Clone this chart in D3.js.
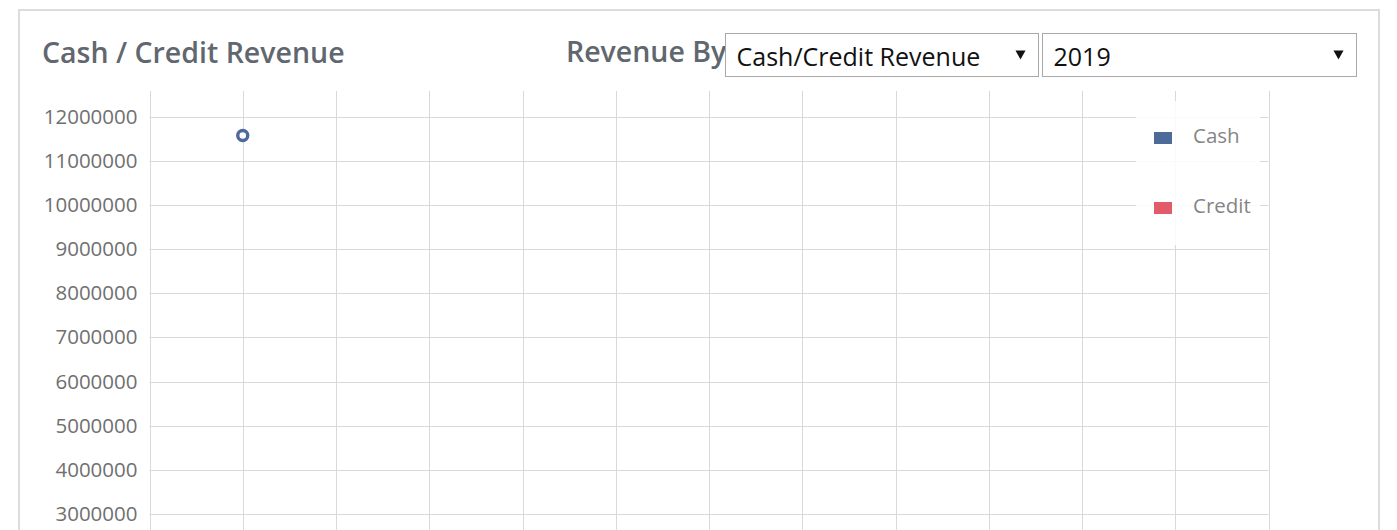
<!DOCTYPE html>
<html>
<head>
<meta charset="utf-8">
<script src="https://cdn.jsdelivr.net/npm/d3@7"></script>
<style>
  body { margin: 0; background: #fff; overflow: hidden; }
  text { font-family: "Open Sans", sans-serif; }
</style>
</head>
<body>
<div id="wrapper"></div>
<script>
// DATA
const months = [1]
const cashValues = [11580000]
const creditMonths = []
const creditValues = []
const yTicks = [3000000, 4000000, 5000000, 6000000,
  7000000, 8000000, 9000000, 10000000, 11000000, 12000000]
const xTicks = [0, 1, 2, 3, 4, 5, 6, 7, 8, 9, 10, 11, 12]
const legendItems = ["Cash", "Credit"]
const legendColors = ["#4e6a9a", "#e25b6b"]
const revenueOptions = ["Cash/Credit Revenue"]
const yearOptions = ["2019"]

function drawChart() {
  const width = 1397
  const height = 530

  const svg = d3.select('#wrapper')
    .append('svg')
    .attr('width', width)
    .attr('height', height)

  // panel
  svg.append('rect')
    .attr('x', 19).attr('y', 10)
    .attr('width', 1360).attr('height', 640)
    .attr('fill', '#fff')
    .attr('stroke', '#dcdcdc')
    .attr('stroke-width', 2)

  // header
  svg.append('text')
    .attr('x', 42).attr('y', 63)
    .attr('font-size', 28.5).attr('font-weight', 600)
    .attr('fill', '#61676f')
    .text('Cash / Credit Revenue')

  svg.append('text')
    .attr('x', 566).attr('y', 62)
    .attr('font-size', 28.5).attr('font-weight', 600)
    .attr('fill', '#61676f')
    .text('Revenue By')

  // fake selects
  const selects = [
    { x: 725, w: 313, label: revenueOptions[0] },
    { x: 1042, w: 314, label: yearOptions[0] }
  ]
  const sel = svg.selectAll('.select')
    .data(selects)
    .enter().append('g')
    .attr('class', 'select')
    .attr('transform', d => `translate(${d.x + 0.5},33.5)`)
  sel.append('rect')
    .attr('width', d => d.w).attr('height', 43)
    .attr('fill', '#fff').attr('stroke', '#a9a9a9')
  sel.append('text')
    .attr('x', 11).attr('y', 32.5)
    .attr('font-size', 25).attr('fill', '#111')
    .text(d => d.label)
  sel.append('path')
    .attr('d', d => `M${d.w - 23},17 h10 l-5,9 z`)
    .attr('fill', '#111')

  // PLOT
  const plot = { left: 149.5, right: 1268.5, top: 91, bottom: 646 }

  const xScale = d3.scaleLinear()
    .domain([0, 12])
    .range([plot.left, plot.right])

  const yScale = d3.scaleLinear()
    .domain([0, 12590000])
    .range([plot.bottom, plot.top])

  const grid = svg.append('g')

  grid.selectAll('.hline')
    .data(yTicks)
    .enter().append('line')
    .attr('x1', plot.left).attr('x2', plot.right)
    .attr('y1', d => Math.round(yScale(d)) + 0.5)
    .attr('y2', d => Math.round(yScale(d)) + 0.5)
    .attr('stroke', '#d9d9d9')

  grid.selectAll('.vline')
    .data(xTicks)
    .enter().append('line')
    .attr('x1', d => Math.round(xScale(d)) + 0.5)
    .attr('x2', d => Math.round(xScale(d)) + 0.5)
    .attr('y1', plot.top).attr('y2', plot.bottom)
    .attr('stroke', '#d9d9d9')

  const yAxis = d3.axisLeft(yScale)
    .tickValues(yTicks)
    .tickSize(0)
    .tickPadding(12)
    .tickFormat(d3.format('d'))

  const axisG = svg.append('g')
    .attr('transform', `translate(${plot.left},0)`)
    .call(yAxis)
  axisG.select('.domain').remove()
  axisG.selectAll('text')
    .attr('font-family', '"Open Sans", sans-serif')
    .attr('font-size', 20.5)
    .attr('fill', '#707070')

  // cash series
  const line = d3.line()
    .x(d => xScale(d[0]))
    .y(d => yScale(d[1]))
  const cashData = d3.zip(months, cashValues)
  const creditData = d3.zip(creditMonths, creditValues)

  svg.append('path')
    .attr('d', line(cashData))
    .attr('fill', 'none')
    .attr('stroke', legendColors[0])
    .attr('stroke-width', 3)

  svg.selectAll('.cash-pt')
    .data(cashData)
    .enter().append('circle')
    .attr('cx', d => xScale(d[0]))
    .attr('cy', d => yScale(d[1]))
    .attr('r', 5)
    .attr('fill', '#fff')
    .attr('stroke', legendColors[0])
    .attr('stroke-width', 3.4)

  svg.selectAll('.credit-pt')
    .data(creditData)
    .enter().append('circle')
    .attr('cx', d => xScale(d[0]))
    .attr('cy', d => yScale(d[1]))
    .attr('r', 5)
    .attr('fill', '#fff')
    .attr('stroke', legendColors[1])
    .attr('stroke-width', 3.4)

  // legend
  const legend = svg.append('g')
  legend.append('rect')
    .attr('x', 1136).attr('y', 101)
    .attr('width', 124).attr('height', 144)
    .attr('fill', '#fff').attr('opacity', 0.85)

  const item = legend.selectAll('.item')
    .data(legendItems)
    .enter().append('g')
    .attr('transform', (d, i) => `translate(1154,${132 + i * 70})`)
  item.append('rect')
    .attr('width', 18).attr('height', 12)
    .attr('fill', (d, i) => legendColors[i])
  item.append('text')
    .attr('x', 39).attr('y', 11)
    .attr('font-size', 20.5)
    .attr('fill', '#858585')
    .text(d => d)
}
drawChart()
</script>
</body>
</html>
